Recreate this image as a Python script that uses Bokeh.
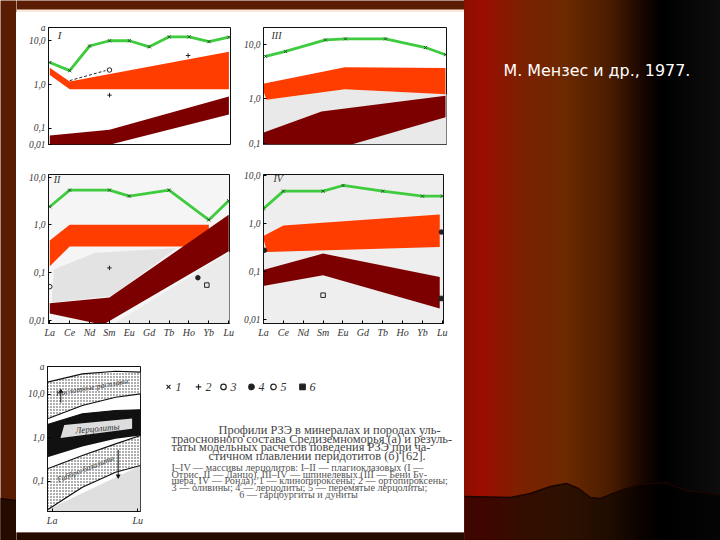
from bokeh.plotting import figure
from bokeh.layouts import column, row
from bokeh.models import Range1d, FixedTicker
from bokeh.core.properties import value
from bokeh.embed import file_html
from bokeh.resources import INLINE

elements = ["La", "Ce", "Nd", "Sm", "Eu", "Gd", "Tb", "Ho", "Yb", "Lu"]

# Panel I
i_green_x = [0, 1, 2, 3, 4, 5, 6, 7, 8, 9]
i_green = [3.23, 2.10, 7.67, 10.1, 10.1, 7.33, 12.4, 12.4, 9.64, 12.2]
i_or_x = [0, 1, 9]
i_or_hi = [2.45, 1.18, 5.65]
i_or_lo = [1.67, 0.785, 0.785]
i_dk_x = [0, 3, 9]
i_dk_hi = [0.0689, 0.0933, 0.536]
i_dk_lo = [0.0425, 0.0425, 0.209]
i_plus_x = [3, 6.95]
i_plus = [0.578, 4.65]
i_open_x = [3]
i_open = [2.17]
i_dash_x = [1, 2.8]
i_dash = [1.24, 2.10]

# Panel II
ii_green_x = [0, 1, 3, 4, 6, 8, 9]
ii_green = [2.40, 5.36, 5.36, 4.02, 5.36, 1.27, 3.21]
ii_or_x = [0, 1, 8]
ii_or_hi = [0.471, 1, 1]
ii_or_lo = [0.135, 0.353, 0.353]
ii_dk_hi_x = [0, 3, 9]
ii_dk_hi = [0.0226, 0.0297, 1.62]
ii_dk_lo_x = [0, 2.67, 9]
ii_dk_lo = [0.0138, 0.00798, 0.278]
ii_grey1_x = [0.2, 2.26, 6.4, 3.1, 0.1]
ii_grey1 = [0.115, 0.257, 0.327, 0.0323, 0.0234]
ii_grey2_x = [3.25, 9.1, 9.1]
ii_grey2 = [0.0085, 0.278, 0.0085]
ii_plus_x, ii_plus = [3], [0.125]
ii_dot_x, ii_dot = [7.45], [0.0776]
ii_sq_x, ii_sq = [7.9], [0.0544]
ii_open_x, ii_open = [0], [0.0504]

# Panel III
iii_green_x = [0, 1, 3, 4, 6, 8, 9]
iii_green = [6.07, 7.50, 12.3, 12.9, 12.9, 8.87, 6.52]
iii_or_hi_x = [-0.23, 3.97, 9]
iii_or_hi = [1.83, 3.80, 3.69]
iii_or_lo_x = [0.05, 3.97, 9]
iii_or_lo = [0.938, 1.48, 1.19]
iii_dk_hi_x = [-0.23, 2.8, 9]
iii_dk_hi = [0.219, 0.564, 1.11]
iii_dk_lo_x = [-0.23, 4.3, 9]
iii_dk_lo = [0.137, 0.137, 0.443]
iii_grey_x = [-0.2, 0.05, 3.97, 9.1, 9.1, -0.2]
iii_grey = [0.938, 0.938, 1.48, 1.19, 0.137, 0.137]

# Panel IV
iv_green_x = [0, 1, 3, 4, 6, 8, 9]
iv_green = [2.02, 4.71, 4.71, 6.19, 4.71, 3.70, 3.70]
iv_or_hi_x = [-0.03, 1, 8.87]
iv_or_hi = [0.536, 0.908, 1.54]
iv_or_lo_x = [0.17, 8.87]
iv_or_lo = [0.252, 0.321]
iv_dk_x = [-0.08, 3, 8.87]
iv_dk_hi = [0.105, 0.234, 0.076]
iv_dk_lo = [0.0486, 0.0826, 0.0167]
iv_dot_x, iv_dot = [8.95, 0.05], [0.659, 0.274]
iv_sq_x, iv_sq = [8.95], [0.027]
iv_osq_x, iv_osq = [3], [0.0316]

# Panel a: schematic fields
a_x = [0, 0.375, 0.732, 1]
a_top = [18.7, 29.1, 33.4, 31.7]
a_up_lo = [2.69, 5.44, 8.43, 10.1]
a_blk_hi = [1.99, 3.51, 4.18, 4.33]
a_blk_lo = [0.352, 0.621, 0.933, 1.11]
a_low_hi = [0.191, 0.385, 0.716, 1.11]
a_low_lo = [0.0218, 0.0721, 0.159, 0.227]
a_box_x = [0.18, 0.91, 0.91, 0.14]
a_box = [1.95, 2.75, 1.6, 0.98]
a_arrow1_x, a_arrow1 = [0.143, 0.143], [6.3, 11.5]
a_arrow2_x, a_arrow2 = [0.76, 0.76], [0.52, 0.13]

caption_main = [
    "Профили РЗЭ в минералах и породах уль-",
    "траосновного состава Средиземноморья (а) и резуль-",
    "таты модельных расчетов поведения РЗЭ при ча-",
    "стичном плавлении перидотитов (б) [62].",
]
caption_small = [
    "I–IV — массивы лерцолитов: I–II — плагиоклазовых (I —",
    "Отрис, II — Ланцо), III–IV — шпинелевых (III — Бени Бу-",
    "шера, IV — Ронда); 1 — клинопироксены; 2 — ортопироксены;",
    "3 — оливины; 4 — лерцолиты; 5 — перемятые лерцолиты;",
    "6 — гарцбургиты и дуниты",
]
legend_labels = ["1", "2", "3", "4", "5", "6"]
citation = "М. Мензес и др., 1977."

GREEN, ORANGE, DARK = "#3ecb3e", "#ff3d00", "#7d0000"
INK = "#333333"
SERIF = value("Liberation Serif")
WALL = "#5a1c02"
wave_x = [0, 15, 465, 510, 530, 550, 566, 578, 590, 600, 620, 640, 665, 685, 720, 720, 0]
wave_y = [498, 500, 496, 497, 493, 486, 483, 488, 497, 498, 490, 484, 482, 490, 494, 540, 540]


def sheet(x0, x1, y0, y1, fill=None):
    """A borderless tile of the slide, addressed in page pixels."""
    f = figure(width=x1 - x0, height=y1 - y0, x_range=Range1d(x0, x1), y_range=Range1d(y1, y0),
               output_backend="svg", toolbar_location=None, x_axis_location=None,
               y_axis_location=None, min_border=0, outline_line_color=None,
               background_fill_color=fill, background_fill_alpha=1 if fill else 0,
               border_fill_color=fill, border_fill_alpha=1 if fill else 0)
    f.grid.visible = False
    return f


def write(fig, x, y, text, size, font=SERIF, style="normal", color=INK, align="left", angle=0):
    fig.text([x], [y], text=[text], text_font=font, text_font_size=size, text_font_style=style,
             text_color=color, text_align=align, text_baseline="middle",
             angle=angle, angle_units="deg")


def wave(f):
    f.patch(wave_x, wave_y, fill_color="black", fill_alpha=0.58, line_color="#1a0500", line_width=1.5)


left_wall = sheet(0, 16, 0, 540, WALL)
wave(left_wall)
top_wall = sheet(16, 464, 0, 12, WALL)
top_wall.quad(left=16, right=464, top=9, bottom=12, fill_color="#fde9dc", line_color=None)
bottom_wall = sheet(16, 464, 530, 540, WALL)
wave(bottom_wall)

right_wall = sheet(464, 720, 0, 540)
right_wall.styles = {"background": "linear-gradient(90deg,#8a1000 0px,#9c0c00 16px,#7c2000 56px,"
                     "#6c2a00 101px,#4a1c00 146px,#150500 181px,#000000 198px,#0d0d0d 256px)"}
wave(right_wall)
write(right_wall, 503, 70, citation, "15.9px", font=value("DejaVu Sans"), color="white")

notes = sheet(155, 464, 345, 530, "white")
leg_x = [168, 198, 223, 251, 273, 302]
leg_m = ["x", "cross", "circle", "circle", "circle", "square"]
leg_f = [None, None, None, "#222222", None, "#222222"]
for lx, m, f, lab in zip(leg_x, leg_m, leg_f, legend_labels):
    notes.scatter([lx], [371], marker=m, size=5.5, line_color="#222222", fill_color=f, line_width=1.2)
    write(notes, lx + 7, 371, lab, "12px", style="italic")
for i, (line, ty) in enumerate(zip(caption_main, [426, 437, 448, 459])):
    write(notes, {0: 218, 1: 171, 2: 171, 3: 208}[i], ty, line, "12.4px", color="#444444")
for i, (line, ty) in enumerate(zip(caption_small, [474, 483, 491, 499, 508])):
    if i == 4:
        write(notes, 298, ty, line, "10.2px", color="#555555", align="center")
    else:
        write(notes, 171, ty, line, "10.2px", color="#555555")


def style_axis(ax, size):
    ax.major_tick_in, ax.major_tick_out = 3, 0
    ax.minor_tick_line_color = None
    ax.axis_line_color = "#111111"
    ax.major_label_text_font = "Liberation Serif"
    ax.major_label_text_font_style = "italic"
    ax.major_label_text_font_size = size
    ax.major_label_text_color = INK
    ax.major_label_standoff = 3


def panel(frame, border, xr, yr, ticks, labels, xticks=None, xlabels=None, bg_color=None):
    w, h = frame
    L, T, R, B = border
    p = figure(width=w + L + R, height=h + T + B, x_range=Range1d(*xr), y_range=Range1d(*yr),
               y_axis_type="log", output_backend="svg", toolbar_location=None,
               x_axis_location="below" if xticks else None,
               min_border_left=L, min_border_top=T, min_border_right=R, min_border_bottom=B,
               outline_line_color="#111111", outline_line_width=1,
               background_fill_color=bg_color or "white", border_fill_color="white")
    p.grid.visible = False
    ax = p.yaxis[0]
    ax.ticker = FixedTicker(ticks=ticks)
    ax.major_label_overrides = dict(zip(ticks, labels))
    style_axis(ax, "9.5px")
    if xticks:
        xa = p.xaxis[0]
        xa.ticker = FixedTicker(ticks=xticks)
        xa.major_label_overrides = dict(zip(xticks, xlabels))
        style_axis(xa, "10px")
    return p


def band(p, hx, hy, lx, ly, color):
    p.patch(list(hx) + list(lx)[::-1], list(hy) + list(ly)[::-1], fill_color=color, line_color=None)


def green(p, x, y):
    p.line(x, y, line_color=GREEN, line_width=2.8)
    p.scatter(x, y, marker="x", size=4.5, line_color="#2a4a2a", line_width=0.9)


def marks(p, x, y, marker, fill=None):
    p.scatter(x, y, marker=marker, size=4.5, line_color="#222222", fill_color=fill, line_width=1)


idx = list(range(len(elements)))

# I
p1 = panel((182, 135), (32, 15, 10, 6), (-0.065, 9.08), (0.043, 20.3), [20.3, 10, 1, 0.1, 0.043],
           ["a", "10,0", "1,0", "0,1", "0,01"])
band(p1, i_or_x, i_or_hi, i_or_x, i_or_lo, ORANGE)
band(p1, i_dk_x, i_dk_hi, i_dk_x, i_dk_lo, DARK)
green(p1, i_green_x, i_green)
marks(p1, i_plus_x, i_plus, "cross")
marks(p1, i_open_x, i_open, "circle")
p1.line(i_dash_x, i_dash, line_color="#222222", line_width=1, line_dash="3 2")
write(p1, 0.4, 14, "I", "11px", style="italic")

# III (upper right)
p3 = panel((184, 118), (22, 14, 18, 24), (-0.1, 9.05), (0.137, 21), [10, 1, 0.14], ["10,0", "1,0", "0,1"])
p3.patch(iii_grey_x, iii_grey, fill_color="#e9e9e9", line_color=None)
band(p3, iii_or_hi_x, iii_or_hi, iii_or_lo_x, iii_or_lo, ORANGE)
band(p3, iii_dk_hi_x, iii_dk_hi, iii_dk_lo_x, iii_dk_lo, DARK)
green(p3, iii_green_x, iii_green)
write(p3, 0.3, 15, "III", "10px", style="italic")

# II (lower left)
p2 = panel((181, 150), (32, 6, 11, 21), (-0.065, 9.04), (0.0085, 11.4), [10, 1, 0.1, 0.01],
           ["10,0", "1,0", "0,1", "0,01"], idx, elements, bg_color="#f5f5f5")
p2.patch(ii_grey1_x, ii_grey1, fill_color="#e3e3e3", line_color=None)
p2.patch(ii_grey2_x, ii_grey2, fill_color="#ebebeb", line_color=None)
band(p2, ii_or_x, ii_or_hi, ii_or_x, ii_or_lo, ORANGE)
band(p2, ii_dk_hi_x, ii_dk_hi, ii_dk_lo_x, ii_dk_lo, DARK)
green(p2, ii_green_x, ii_green)
marks(p2, ii_plus_x, ii_plus, "cross")
marks(p2, ii_dot_x, ii_dot, "circle", "#222222")
marks(p2, ii_sq_x, ii_sq, "square")
marks(p2, ii_open_x, ii_open, "circle")
write(p2, 0.2, 9, "II", "10px", style="italic")

# IV
p4 = panel((182, 149), (21, 6, 21, 22), (0, 9.06), (0.0081, 10.5), [10, 1, 0.1, 0.01],
           ["10,0", "1,0", "0,1", "0,01"], idx, elements, bg_color="#eeeeee")
band(p4, iv_or_hi_x, iv_or_hi, iv_or_lo_x, iv_or_lo, ORANGE)
band(p4, iv_dk_x, iv_dk_hi, iv_dk_x, iv_dk_lo, DARK)
green(p4, iv_green_x, iv_green)
marks(p4, iv_dot_x, iv_dot, "circle", "#222222")
marks(p4, iv_sq_x, iv_sq, "square", "#222222")
marks(p4, iv_osq_x, iv_osq, "square")
write(p4, 0.5, 8.6, "IV", "10px", style="italic")

# a
p5 = panel((93, 145), (31, 21, 15, 19), (0, 1), (0.0199, 42.9), [42.9, 10, 1, 0.1], ["а", "10,0", "1,0", "0,1"],
           [0.05, 0.97], ["La", "Lu"])
p5.patch([0, 1, 1, 0], [0.0199, 0.0199, 0.227, 0.0218], fill_color="#dfdfdf", line_color=None)
for hi, lo in [(a_top, a_up_lo), (a_low_hi, a_low_lo)]:
    p5.varea(a_x, lo, hi, fill_color="white", fill_alpha=1,
             hatch_pattern="dot", hatch_color="#333333", hatch_scale=3, hatch_weight=0.6)
p5.varea(a_x, a_blk_lo, a_blk_hi, fill_color="#111111")
p5.patch(a_box_x, a_box, fill_color="#dddddd", line_color=None)
for c in (a_top, a_up_lo, a_blk_hi, a_low_hi, a_low_lo):
    p5.line(a_x, c, line_color="#111111", line_width=1.2)
p5.line(a_arrow1_x, a_arrow1, line_color="#111111", line_width=1)
p5.scatter([a_arrow1_x[1]], [a_arrow1[1]], marker="triangle", size=5, fill_color="#111111", line_color=None)
p5.line(a_arrow2_x, a_arrow2, line_color="#111111", line_width=1)
p5.scatter([a_arrow2_x[1]], [a_arrow2[1]], marker="inverted_triangle", size=5, fill_color="#111111", line_color=None)
write(p5, 0.48, 14.3, "Кислотные расплавы", "8px", style="italic", align="center", angle=10)
write(p5, 0.536, 1.61, "Лерцолиты", "9px", style="italic", align="center", angle=5)
write(p5, 0.41, 0.19, "Габбро-базальты", "8px", style="italic", align="center", angle=22)

middle = column(top_wall, row(p1, p3), row(p2, p4), row(p5, notes), bottom_wall)
root = row(left_wall, middle, right_wall, margin=(0, 0, 0, 0))
open("out.html", "w").write(file_html(root, INLINE))
